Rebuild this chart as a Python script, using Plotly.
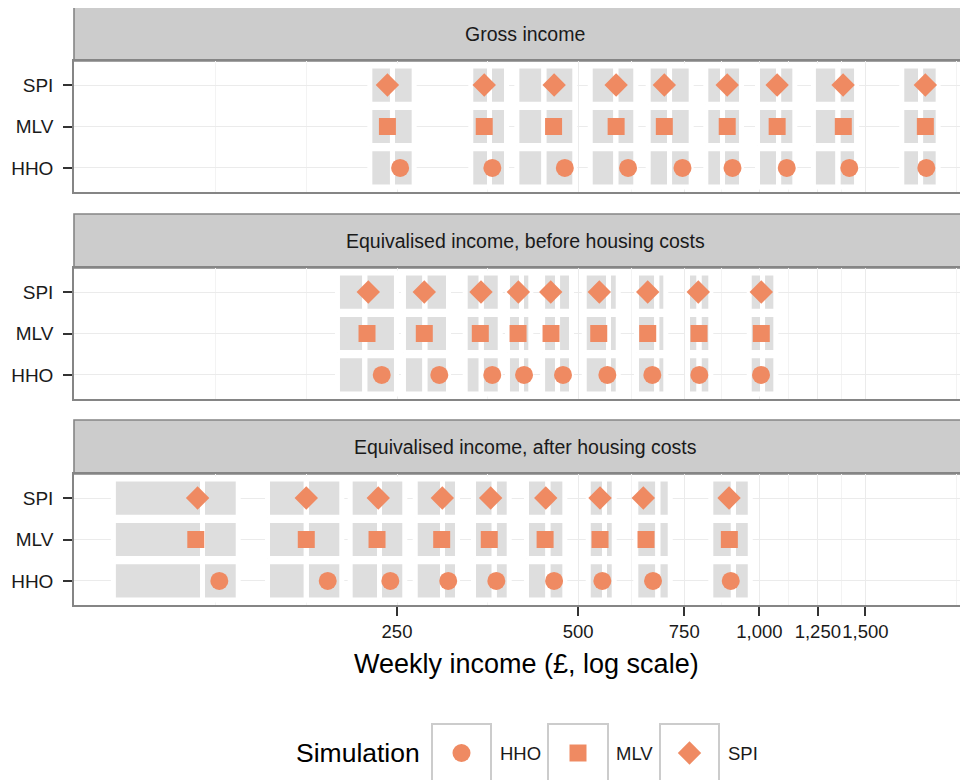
import plotly.graph_objects as go

# ---------------- data (weekly income, £) ----------------
SIMS = ["HHO", "MLV", "SPI"]
PANELS = ["Gross income",
          "Equivalised income, before housing costs",
          "Equivalised income, after housing costs"]

gross_hho = [253, 360, 475, 605, 745, 902, 1110, 1410, 1893]
gross_mlv = [241, 349, 455, 578, 695, 884, 1070, 1378, 1886]
gross_spi = [241, 349, 456, 578, 695, 884, 1070, 1377, 1886]
gross_band_lo = [227.5, 334.7, 399.2, 528.5, 659.7, 822.3, 1002, 1241, 1740]
gross_band_mid = [245.7, 356.1, 438.4, 577.3, 709.0, 868.3, 1076, 1350, 1852]
gross_band_hi = [264.4, 376.4, 488.8, 617.2, 762.9, 924.9, 1134, 1436, 1962]

bhc_hho = [235.8, 293.9, 359.9, 406.4, 471.7, 558.9, 663.8, 794.5, 1006]
bhc_mlv = [222.9, 277.5, 343.8, 397.2, 450.6, 540.8, 652.2, 793.6, 1007]
bhc_spi = [224.0, 277.5, 344.7, 397.7, 450.1, 542.0, 652.2, 791.4, 1007]
bhc_band_lo = [201.0, 258.7, 327.6, 385.1, 440.5, 516.5, 630.9, 766.7, 970.9]
bhc_band_mid = [221.0, 278.1, 345.0, 402.5, 462.0, 561.4, 675.1, 793.6, 1011.9]
bhc_band_hi = [247.1, 301.5, 367.5, 413.1, 482.7, 577.1, 692.3, 822.3, 1054.6]

ahc_hho = [126.7, 191.8, 243.7, 304.1, 365.5, 455.9, 548.3, 665.6, 896.0]
ahc_mlv = [115.8, 176.7, 231.6, 296.6, 355.8, 440.5, 543.5, 648.0, 891.2]
ahc_spi = [116.6, 176.7, 232.7, 297.3, 357.7, 441.6, 543.5, 641.3, 890.2]
ahc_band_lo = [85.3, 153.8, 211.0, 270.6, 338.2, 414.2, 524.5, 629.2, 838.2]
ahc_band_mid = [118.8, 176.7, 233.8, 297.5, 362.6, 445.2, 552.9, 677.9, 905.0]
ahc_band_hi = [134.9, 200.5, 255.1, 312.1, 380.3, 470.5, 568.3, 704.1, 956.2]

x_tick_vals = [250, 500, 750, 1000, 1250, 1500]
x_tick_text = ["250", "500", "750", "1,000", "1,250", "1,500"]
x_minor_vals = [125, 176.8, 353.6, 612.4, 866.0, 1118.0, 1369.3, 2121.3]
x_title = "Weekly income (£, log scale)"
legend_title = "Simulation"

panel_points = [
    [gross_hho, gross_mlv, gross_spi],
    [bhc_hho, bhc_mlv, bhc_spi],
    [ahc_hho, ahc_mlv, ahc_spi],
]
panel_bands = [
    (gross_band_lo, gross_band_mid, gross_band_hi),
    (bhc_band_lo, bhc_band_mid, bhc_band_hi),
    (ahc_band_lo, ahc_band_mid, ahc_band_hi),
]

# ---------------- styling / layout constants ----------------
W, H = 968, 780
OFF = 8                                 # page (body) margin of the browser
FONT = "Liberation Sans, Arial, Helvetica, sans-serif"
ORANGE = "#ef8a62"
BAND = "#dedede"
BORDER = "#858585"
GRID = "#ebebeb"
TXT = "#1a1a1a"
SYMBOLS = {"HHO": ("circle", 18), "MLV": ("square", 17), "SPI": ("diamond", 18)}

X_LEFT = 74                             # screen px of panel left edge
X_RIGHT = W + OFF                       # panel runs past the visible right edge
X_RANGE = [1.8614, 3.3597]              # log10 units
Y_RANGE = [0.42, 3.58]
PANEL_TOPS = [61, 268, 474]
PANEL_H = 131
STRIP_H = 54
ROW_HALF = 0.4
OUTLINE = 5.0                           # white outline of band rects (px)

px_per_dec = (X_RIGHT - X_LEFT) / (X_RANGE[1] - X_RANGE[0])
px_per_unit = PANEL_H / (Y_RANGE[1] - Y_RANGE[0])
fx = 10 ** ((OUTLINE / 2) / px_per_dec)
dy = (OUTLINE / 2) / px_per_unit


def sx(p):
    return (p - OFF) / W


def py(p):
    return 1 - (p - OFF) / H


def band_polys(lo, mid, hi):
    xs, ys = [], []
    for l, m, h in zip(lo, mid, hi):
        for row in (1, 2, 3):
            y0, y1 = row - ROW_HALF - dy, row + ROW_HALF + dy
            for a, b in ((l / fx, m), (m, h * fx)):
                xs += [a, b, b, a, a, None]
                ys += [y0, y0, y1, y1, y0, None]
    return xs, ys


fig = go.Figure()
shapes, annotations = [], []

for i in range(3):
    sfx = "" if i == 0 else str(i + 1)
    xa, ya = "x" + sfx, "y" + sfx
    bx, by = band_polys(*panel_bands[i])
    fig.add_trace(go.Scatter(x=bx, y=by, mode="lines", fill="toself",
                             fillcolor=BAND, line=dict(color="white", width=OUTLINE),
                             hoverinfo="skip", showlegend=False, xaxis=xa, yaxis=ya))
    for j, sim in enumerate(SIMS):
        sym, size = SYMBOLS[sim]
        fig.add_trace(go.Scatter(x=panel_points[i][j], y=[j + 1] * len(panel_points[i][j]),
                                 mode="markers", name=sim, showlegend=False,
                                 marker=dict(symbol=sym, size=size, color=ORANGE, line=dict(width=0)),
                                 xaxis=xa, yaxis=ya))
    top = PANEL_TOPS[i]
    dom = [py(top + PANEL_H), py(top)]
    last = (i == 2)
    fig.update_layout(**{
        "xaxis" + sfx: dict(
            type="log", range=X_RANGE, domain=[sx(X_LEFT), sx(X_RIGHT)], anchor=ya,
            automargin=False, tickangle=0,
            tickvals=x_tick_vals, ticktext=x_tick_text, showticklabels=last,
            ticks="outside" if last else "", ticklen=9, tickwidth=2.2, tickcolor="#333",
            tickfont=dict(size=18.5, color=TXT, family=FONT),
            showgrid=True, gridcolor=GRID, gridwidth=1.1,
            minor=dict(tickvals=x_minor_vals, showgrid=True, gridcolor="#f3f3f3",
                       gridwidth=0.7, ticks=""),
            showline=True, mirror=True, linecolor=BORDER, linewidth=1.6, zeroline=False),
        "yaxis" + sfx: dict(
            range=Y_RANGE, domain=dom, anchor=xa, automargin=False,
            tickvals=[1, 2, 3], ticktext=SIMS, ticks="outside", ticklen=9,
            tickwidth=2.2, tickcolor="#333", ticklabelstandoff=6,
            tickfont=dict(size=19, color=TXT, family=FONT),
            showgrid=True, gridcolor=GRID, gridwidth=1.1,
            showline=True, linecolor=BORDER, linewidth=1.6, zeroline=False),
    })
    # strip
    shapes.append(dict(type="rect", xref="paper", yref="paper",
                       x0=sx(X_LEFT), x1=1.01, y0=py(top), y1=py(top - STRIP_H),
                       fillcolor="#cccccc", line=dict(color=BORDER, width=1.6), layer="below"))
    annotations.append(dict(text=PANELS[i], xref="paper", yref="paper",
                            x=sx(525), y=py(top - STRIP_H / 2), showarrow=False,
                            font=dict(size=19.5, color=TXT, family=FONT),
                            xanchor="center", yanchor="middle"))

# x-axis title
annotations.append(dict(text=x_title, xref="paper", yref="paper", x=sx(526), y=py(664),
                        showarrow=False, font=dict(size=27, color="black", family=FONT),
                        xanchor="center", yanchor="middle"))

# ---------------- custom legend ----------------
LEG_Y = 753
key_boxes = [(432, 491), (548, 608), (660, 719)]
label_x = [498, 614, 726]
fig.update_layout(
    xaxis4=dict(domain=[0, 1], range=[OFF, W + OFF], visible=False, anchor="y4",
                automargin=False),
    yaxis4=dict(domain=[0, 80 / H], range=[H + OFF, H + OFF - 80], visible=False,
                anchor="x4", automargin=False),
)
annotations.append(dict(text=legend_title, xref="paper", yref="paper", x=sx(294), y=py(LEG_Y),
                        showarrow=False, font=dict(size=26.5, color="black", family=FONT),
                        xanchor="left", yanchor="middle"))
for (x0, x1), lx, sim in zip(key_boxes, label_x, SIMS):
    shapes.append(dict(type="rect", xref="paper", yref="paper", x0=sx(x0), x1=sx(x1),
                       y0=-0.05, y1=py(724), fillcolor="white",
                       line=dict(color="#cccccc", width=2), layer="below"))
    sym, size = SYMBOLS[sim]
    fig.add_trace(go.Scatter(x=[(x0 + x1) / 2], y=[LEG_Y], mode="markers", showlegend=False,
                             hoverinfo="skip",
                             marker=dict(symbol=sym, size=size, color=ORANGE, line=dict(width=0)),
                             xaxis="x4", yaxis="y4"))
    annotations.append(dict(text=sim, xref="paper", yref="paper", x=sx(lx), y=py(LEG_Y),
                            showarrow=False, font=dict(size=18.5, color=TXT, family=FONT),
                            xanchor="left", yanchor="middle"))

fig.update_layout(
    width=W, height=H, margin=dict(l=0, r=0, t=0, b=0, autoexpand=False),
    paper_bgcolor="white", plot_bgcolor="white",
    shapes=shapes, annotations=annotations, showlegend=False,
    font=dict(family=FONT, color=TXT),
)

fig.write_html("out.html")
